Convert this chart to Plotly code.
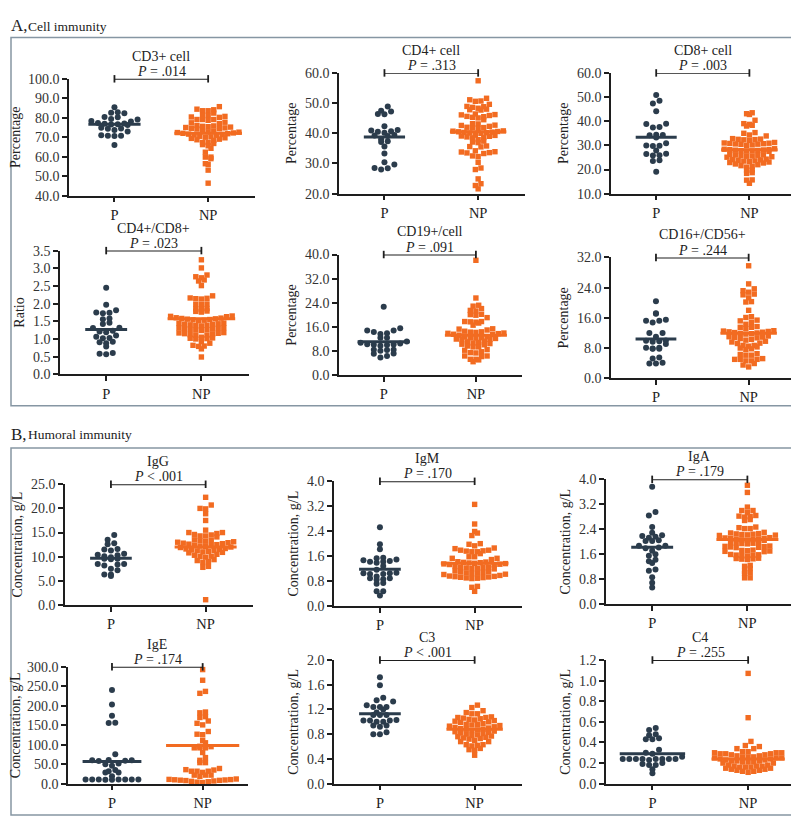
import numpy as np
import plotly.graph_objects as go

# ---------------- DATA ----------------
GROUPS = ["P", "NP"]

TITLES = ["CD3+ cell", "CD4+ cell", "CD8+ cell", "CD4+/CD8+", "CD19+/cell", "CD16+/CD56+",
          "IgG", "IgM", "IgA", "IgE", "C3", "C4"]
PVALUES = ["<i>P</i> = .014", "<i>P</i> = .313", "<i>P</i> = .003", "<i>P</i> = .023",
           "<i>P</i> = .091", "<i>P</i> = .244", "<i>P</i> < .001", "<i>P</i> = .170",
           "<i>P</i> = .179", "<i>P</i> = .174", "<i>P</i> < .001", "<i>P</i> = .255"]
YLABELS = ["Percentage", "Percentage", "Percentage", "Ratio", "Percentage", "Percentage",
           "Concentration, g/L", "Concentration, g/L", "Concentration, g/L",
           "Concentration, g/L", "Concentration, g/L", "Concentration, g/L"]
YRANGES = [(40, 100), (20, 60), (10, 60), (0, 3.5), (0, 40), (0, 32),
           (0, 25), (0, 4), (0, 4), (0, 300), (0, 2), (0, 1.2)]
YDTICKS = [10, 10, 10, 0.5, 8, 8, 5, 0.8, 0.8, 50, 0.4, 0.2]

cd3_p = [85.4, 82.8, 82.6, 82.3, 80.4, 80.3, 79.4, 79.1, 78.3, 78.1, 77.3, 77.1, 76.9, 76.7,
         76.5, 76.3, 74.9, 74.5, 74.3, 73.7, 72.9, 71.0, 70.8, 70.7, 70.6, 66.0]
cd3_np = [85.7, 84.4, 84.1, 83.6, 83.6, 82.4, 81.4, 80.7, 81.1, 80.4, 80.2, 79.1, 79.1, 79.1,
          78.7, 77.7, 77.4, 77.0, 76.0, 75.8, 75.6, 75.4, 75.2, 75.0, 74.8, 74.6, 74.4, 74.2,
          73.2, 73.0, 72.8, 72.6, 72.4, 72.2, 72.0, 71.8, 71.6, 71.4, 71.2, 71.0,
          70.5, 70.2, 70.0, 69.7, 69.4, 69.0, 68.7, 68.4,
          67.3, 66.2, 65.6, 64.3, 66.8, 67.3, 62.3, 59.8, 59.0, 59.8, 56.1, 56.4, 53.1, 46.4]
cd4_p = [48.9, 47.5, 47.2, 46.4, 46.3, 42.3, 41.1, 40.9, 40.7, 40.5, 40.2, 39.4, 39.3, 39.1,
         38.0, 37.4, 37.1, 35.6, 33.3, 30.4, 29.7, 28.5, 28.4, 28.0]
cd4_np = [57.4, 51.6, 51.1, 50.7, 50.6, 49.6, 48.9, 48.8, 48.6, 48.3, 48.0, 47.8, 47.7,
          46.4, 46.2, 46.1, 45.9, 45.6, 45.5, 45.3, 45.1, 44.5,
          43.2, 43.1, 42.7, 42.6, 42.3, 42.0, 41.9, 41.8, 41.6,
          40.8, 40.7, 40.6, 40.5, 40.4, 40.3, 40.2, 40.1, 40.0,
          39.4, 39.3, 39.1, 39.0, 38.8, 38.6, 38.5,
          37.9, 37.4, 37.1, 36.9, 35.8, 35.6, 35.5,
          34.2, 33.9, 33.8, 33.6, 33.5, 33.3, 32.5, 32.3, 30.4, 28.5, 28.0, 24.9, 23.3, 22.7, 21.6]
cd8_p = [50.9, 48.5, 47.3, 44.1, 39.0, 38.9, 37.6, 37.4, 34.4, 34.3, 34.2, 33.3, 30.9, 29.9,
         29.8, 29.7, 27.9, 26.5, 26.4, 25.9, 25.8, 23.8, 23.5, 19.1]
cd8_np = [43.5, 43.1, 42.8, 40.4, 39.0, 38.7, 38.3, 38.0, 35.3, 35.0, 34.3, 33.9,
          32.8, 32.6, 32.5, 32.4, 32.3, 32.1,
          31.2, 31.0, 30.9, 30.8, 30.7, 30.6, 30.5, 30.4, 30.2, 30.0,
          28.6, 28.4, 28.3, 28.2, 28.1, 28.0, 27.9, 27.8, 27.7, 27.6, 27.5,
          26.3, 26.1, 26.0, 25.9, 25.8, 25.6, 25.5, 25.3, 25.1,
          24.3, 24.1, 24.0, 23.8, 23.6, 23.5, 23.3, 23.1, 22.9, 22.7,
          22.3, 22.0, 21.6, 21.3, 21.0,
          19.8, 19.7, 18.7, 18.4, 15.7, 15.6, 14.3]
ratio_p = [2.45, 1.97, 1.81, 1.75, 1.74, 1.73, 1.58, 1.56, 1.46, 1.42, 1.32, 1.31, 1.23, 1.21,
           1.19, 1.10, 1.06, 1.03, 1.02, 0.92, 0.91, 0.88, 0.79, 0.60, 0.58, 0.57]
ratio_np = [3.24, 3.01, 2.81, 2.76, 2.73, 2.67, 2.64, 2.51,
            2.22, 2.16, 2.15, 2.14, 2.13, 1.99, 1.98, 1.97, 1.86, 1.85, 1.83, 1.79, 1.78, 1.76,
            1.65, 1.64, 1.63,
            1.60, 1.59, 1.58, 1.57, 1.56, 1.55, 1.54, 1.53, 1.52,
            1.45, 1.44, 1.43, 1.42, 1.41, 1.40, 1.39, 1.38, 1.37,
            1.32, 1.31, 1.30, 1.29, 1.28, 1.27, 1.26, 1.25, 1.24,
            1.18, 1.17, 1.16, 1.15, 1.14, 1.12, 1.11, 1.10,
            1.05, 1.03, 1.02, 1.01, 1.00,
            0.93, 0.88, 0.82, 0.80, 0.79, 0.72, 0.49]
cd19_p = [22.7, 15.6, 14.8, 14.8, 14.3, 13.9, 13.7, 12.4, 12.4, 11.2, 10.8, 10.5, 10.3, 10.2,
          10.1, 10.0, 9.8, 8.5, 8.5, 8.4, 8.1, 7.2, 7.1, 6.4, 5.9]
cd19_np = [38.1, 25.6, 23.2, 22.9, 22.1, 21.5, 21.3, 20.2, 20.1, 19.9, 19.1,
           17.8, 17.8, 17.7, 17.6, 17.3, 16.6, 15.4, 15.3, 15.0,
           14.6, 14.4, 14.3, 14.2, 14.0, 13.9, 13.8, 13.6, 13.5, 13.3,
           12.8, 12.7, 12.5, 12.4, 12.3, 12.2, 12.0, 11.9, 11.8,
           11.3, 11.1, 10.9, 10.7, 10.5, 10.3, 10.1,
           9.7, 9.4, 9.4, 8.5, 8.3, 7.8, 7.5, 7.4,
           6.4, 6.4, 6.2, 5.3, 5.3, 5.1, 4.5]
cd16_p = [20.4, 17.2, 17.1, 15.5, 15.2, 15.2, 14.8, 12.0, 12.0, 11.0, 10.0, 9.9, 9.8, 9.7,
          9.1, 8.1, 8.1, 7.9, 7.8, 7.8, 5.5, 5.2, 4.1, 3.9, 3.9]
cd16_np = [29.8, 25.0, 23.7, 23.2, 22.8, 22.3, 22.1, 21.3, 20.3, 20.2, 18.0,
           16.3, 16.1, 15.4, 15.2, 14.8, 14.3, 13.7, 13.5, 13.5, 13.2,
           12.6, 12.5, 12.4, 12.3, 12.2, 12.1, 12.0, 11.9, 11.8, 11.7,
           11.2, 11.0, 10.9, 10.8, 10.7, 10.5, 10.3, 10.1,
           9.8, 9.6, 9.3, 9.2,
           8.7, 8.7, 8.5, 8.3, 8.0, 7.8, 7.6,
           6.5, 6.3, 6.1, 6.1, 5.2, 5.0, 5.0, 5.0, 4.6, 4.6, 3.9, 3.5, 3.0]
igg_p = [14.5, 13.5, 12.8, 12.6, 11.6, 11.5, 11.3, 10.6, 10.4, 10.3, 10.1, 9.9, 9.6, 9.6,
         9.5, 8.5, 8.5, 8.4, 8.2, 7.5, 7.2, 6.3, 6.3, 6.0]
igg_np = [22.3, 20.7, 20.0, 19.9, 18.9, 17.5,
          15.5, 15.0, 15.0, 14.8, 14.6, 14.5, 14.3, 14.3, 14.1,
          13.5, 13.4, 13.3, 13.2, 13.1, 13.0,
          12.9, 12.8, 12.7, 12.6, 12.5, 12.4, 12.3, 12.2, 12.1, 12.0, 11.9,
          11.7, 11.6, 11.5, 11.4, 11.3, 11.2, 11.1, 11.0, 10.9, 10.8,
          10.5, 10.3, 10.1, 10.0, 9.9,
          9.4, 9.2, 9.0, 8.8, 8.0, 7.8, 1.1]
igm_p = [2.53, 1.98, 1.82, 1.55, 1.53, 1.49, 1.47, 1.44, 1.42, 1.42, 1.39, 1.28, 1.16, 1.07,
         1.05, 1.05, 1.03, 1.03, 0.95, 0.89, 0.89, 0.86, 0.84, 0.74, 0.71, 0.47, 0.47, 0.34]
igm_np = [3.26, 2.63, 2.39, 2.34, 2.26, 1.98, 2.00, 1.93, 1.86, 1.84, 1.79, 1.79, 1.77, 1.76,
          1.74, 1.74, 1.68,
          1.58, 1.58, 1.53, 1.53, 1.49,
          1.42, 1.41, 1.40, 1.39, 1.38, 1.37, 1.36, 1.35, 1.34, 1.33, 1.32,
          1.27, 1.25, 1.24, 1.23, 1.22, 1.21, 1.20, 1.19,
          1.12, 1.10, 1.09, 1.08, 1.06, 1.05, 1.04, 1.02, 1.01,
          0.98, 0.96, 0.95, 0.94, 0.93, 0.92, 0.91, 0.90, 0.89, 0.88,
          0.63, 0.60, 0.47]
iga_p = [3.76, 2.95, 2.84, 2.47, 2.29, 2.21, 2.18, 2.16, 2.13, 2.05, 2.02, 2.02, 1.87, 1.87,
         1.81, 1.79, 1.71, 1.60, 1.55, 1.42, 1.37, 1.32, 1.11, 1.07, 0.86, 0.68, 0.53]
iga_np = [3.81, 3.58, 3.11, 3.00, 3.00, 2.93, 2.84, 2.82, 2.81, 2.79, 2.71, 2.68, 2.47, 2.45,
          2.42, 2.42,
          2.30, 2.28, 2.26, 2.25, 2.24, 2.23, 2.22, 2.21, 2.20,
          2.13, 2.12, 2.11, 2.10, 2.09, 2.08, 2.07, 2.06, 2.05, 2.04,
          1.98, 1.97, 1.96, 1.95, 1.94, 1.93,
          1.86, 1.85, 1.84, 1.83, 1.82, 1.81,
          1.73, 1.72, 1.71, 1.70, 1.69, 1.68,
          1.59, 1.58, 1.57, 1.56, 1.55, 1.54,
          1.47, 1.46, 1.45, 1.44, 1.43,
          1.24, 1.21, 1.14, 1.05, 1.00, 0.98, 0.84, 0.84]
ige_p = [240.5, 203.6, 174.3, 156.7, 156.0, 75.4, 61.0, 60.0, 60.0, 59.0, 58.0, 52.0, 50.0,
         46.0, 35.0, 32.0, 29.0, 29.0, 19.0, 10.8, 10.7, 10.6, 10.5, 10.5, 10.4, 10.4, 10.3,
         10.2]
ige_np = [293.0, 265.6, 237.0, 232.0, 184.0, 182.0, 172.0, 170.0, 161.0, 155.0, 151.0, 134.0,
          127.0, 125.7, 111.0, 105.0, 96.0, 95.0, 92.0, 92.0, 92.0, 80.0, 67.0, 60.0, 54.0,
          54.0, 39.0, 36.0, 35.0, 32.0, 32.0, 32.0, 29.0, 22.0, 22.0, 22.0, 19.0, 12.0, 11.0,
          10.5, 10.0, 9.5, 9.0, 8.5, 8.0, 7.0, 6.0, 5.0, 4.0, 3.0]
c3_p = [1.72, 1.59, 1.39, 1.35, 1.33, 1.27, 1.24, 1.24, 1.24, 1.20, 1.15, 1.11, 1.11, 1.11,
        1.03, 1.02, 1.02, 1.00, 1.00, 1.02, 0.94, 0.94, 0.92, 0.83, 0.80, 0.80]
c3_np = [1.27, 1.23, 1.18, 1.15, 1.13, 1.13,
         1.08, 1.07, 1.07, 1.06, 1.05, 1.04, 1.03, 1.02, 1.01, 1.00, 0.99,
         0.97, 0.96, 0.96, 0.95, 0.94, 0.93, 0.92, 0.91, 0.90, 0.89,
         0.88, 0.88, 0.87, 0.86, 0.85, 0.84, 0.83, 0.82, 0.81, 0.80,
         0.79, 0.78, 0.77, 0.76, 0.75, 0.74, 0.73, 0.72,
         0.70, 0.68, 0.68, 0.63, 0.63, 0.62, 0.61, 0.57, 0.55, 0.54, 0.46]
c4_p = [0.54, 0.52, 0.48, 0.47, 0.44, 0.43, 0.43, 0.33, 0.30, 0.29, 0.26, 0.24, 0.24, 0.24,
        0.24, 0.23, 0.24, 0.24, 0.24, 0.24, 0.20, 0.19, 0.18, 0.18, 0.14, 0.10]
c4_np = [1.07, 0.64, 0.41, 0.37, 0.36, 0.34, 0.34,
         0.31, 0.31, 0.30, 0.30, 0.30, 0.29, 0.29, 0.29, 0.28, 0.28,
         0.27, 0.27, 0.26, 0.26, 0.26, 0.25, 0.25, 0.25, 0.24, 0.24,
         0.23, 0.23, 0.22, 0.22, 0.22, 0.21, 0.21, 0.21, 0.20, 0.20,
         0.18, 0.18, 0.17, 0.17, 0.17, 0.16, 0.16, 0.16, 0.15, 0.15,
         0.14, 0.14, 0.13, 0.13, 0.12, 0.12, 0.11]

P_SERIES = [cd3_p, cd4_p, cd8_p, ratio_p, cd19_p, cd16_p, igg_p, igm_p, iga_p, ige_p, c3_p, c4_p]
NP_SERIES = [cd3_np, cd4_np, cd8_np, ratio_np, cd19_np, cd16_np, igg_np, igm_np, iga_np, ige_np,
             c3_np, c4_np]
P_MEDIANS = [76.6, 38.8, 33.4, 1.27, 11.1, 10.4, 9.7, 1.18, 1.82, 57.0, 1.13, 0.29]
NP_MEDIANS = [72.0, 40.5, 28.2, 1.57, 13.3, 11.9, 12.0, 1.37, 2.07, 98.0, 0.88, 0.24]

SECTIONS = ["A,", "Cell immunity", "B,", "Humoral immunity"]

# ---------------- LAYOUT / STYLE ----------------
W, H = 799, 820
FONT = "Liberation Serif, Times New Roman, Times, serif"
P_COLOR = "#2b3c4c"
NP_COLOR = "#f26b21"
AX_COLOR = "#1e1e1e"
BOX_COLOR = "#8696a3"
XR = [-0.485, 1.5]
# row-binned scatter: (bin height px, horizontal spacing px) per group
SPACING = [(6.0, 6.6), (5.4, 5.6)]

# panel plot-area pixel boxes: (left, right, top, bottom)
GEOM = [(61, 247, 65, 184), (331, 517, 59, 182), (603, 788, 59, 182),
        (52, 241, 240, 366), (331, 514, 244, 367), (603, 787, 247, 370),
        (57, 245, 478, 601), (326, 514, 475, 602), (598, 787, 473, 600),
        (60, 240, 664, 783), (326, 514, 657, 783), (598, 788, 657, 783)]


def px_x(p):
    return p / W


def px_y(p):
    return 1 - p / H


def row_offsets(vals, ylo, ppu, h, s):
    """GraphPad-like column scatter: points binned in rows of height h px,
    lowest value in the centre of the row, higher values alternately outward."""
    v = np.asarray(vals, float)
    ypx = (v - ylo) * ppu
    bins = np.floor(ypx / h).astype(int)
    xs = np.zeros(len(v))
    for b in np.unique(bins):
        idx = np.where(bins == b)[0]
        idx = idx[np.argsort(v[idx], kind="stable")]
        n = len(idx)
        slots = sorted([(j - (n - 1) / 2.0) * s for j in range(n)],
                       key=lambda c: (abs(c), c))
        for i, c in zip(idx, slots):
            xs[i] = c
    return xs


fig = go.Figure()
shapes = []
annotations = []
layout = {}

for k in range(12):
    sfx = "" if k == 0 else str(k + 1)
    xa, ya = "x" + sfx, "y" + sfx
    x0, x1, yt, yb = GEOM[k]
    ylo, yhi = YRANGES[k]
    ppu_x = (x1 - x0) / (XR[1] - XR[0])
    ppu_y = (yb - yt) / (yhi - ylo)

    groups = [(P_SERIES[k], P_MEDIANS[k], P_COLOR, "circle", 6.0),
              (NP_SERIES[k], NP_MEDIANS[k], NP_COLOR, "square", 5.4)]
    offsets = []
    for gi, (vals, med, col, sym, sz) in enumerate(groups):
        h, s = SPACING[gi]
        offs = row_offsets(vals, ylo, ppu_y, h, s)
        offsets.append(offs)
        fig.add_trace(go.Scatter(
            x=gi + offs / ppu_x, y=vals, mode="markers", xaxis=xa, yaxis=ya,
            marker=dict(symbol=sym, size=sz, color=col, line=dict(width=0)),
            cliponaxis=False, showlegend=False, hoverinfo="y"))
    for gi, (vals, med, col, sym, sz) in enumerate(groups):
        offs = offsets[gi]
        half = max((np.max(np.abs(offs)) + 3) / ppu_x, 0.22)
        fig.add_trace(go.Scatter(
            x=[gi - half, gi + half], y=[med, med], mode="lines", xaxis=xa, yaxis=ya,
            line=dict(color=col, width=3), cliponaxis=False, showlegend=False,
            hoverinfo="skip"))

    layout["xaxis" + sfx] = dict(
        domain=[px_x(x0), px_x(x1)], range=XR, anchor=ya, tickmode="array",
        tickvals=[0, 1], ticktext=GROUPS, showline=True, linecolor=AX_COLOR,
        linewidth=1.6, ticks="outside", ticklen=5, tickwidth=1.6, tickcolor=AX_COLOR,
        showgrid=False, zeroline=False, fixedrange=True,
        tickfont=dict(family=FONT, size=14.5, color="#222"))
    layout["yaxis" + sfx] = dict(
        domain=[px_y(yb), px_y(yt)], range=[ylo, yhi], anchor=xa, tick0=ylo,
        dtick=YDTICKS[k], tickformat=".1f", showline=True, linecolor=AX_COLOR,
        linewidth=1.6, ticks="outside", ticklen=5, tickwidth=1.6, tickcolor=AX_COLOR,
        showgrid=False, zeroline=False, fixedrange=True,
        tickfont=dict(family=FONT, size=14, color="#333"),
        title=dict(text=YLABELS[k], font=dict(family=FONT, size=14, color="#222"),
                   standoff=5))

    # significance bracket
    shapes.append(dict(type="line", xref=xa, yref=ya, x0=0, x1=1, y0=yhi, y1=yhi,
                       line=dict(color=AX_COLOR, width=1.8)))
    for gx in (0, 1):
        shapes.append(dict(type="line", xref=xa, yref="paper", x0=gx, x1=gx,
                           y0=px_y(yt + 3.8), y1=px_y(yt - 3.8),
                           line=dict(color=AX_COLOR, width=1.8)))
    cx = px_x(x0 + (0.5 - XR[0]) * ppu_x)
    annotations.append(dict(text=TITLES[k], x=cx, y=px_y(yt - 23), xref="paper",
                            yref="paper", showarrow=False, xanchor="center",
                            yanchor="middle", font=dict(family=FONT, size=14, color="#222")))
    annotations.append(dict(text=PVALUES[k], x=cx, y=px_y(yt - 7.5), xref="paper",
                            yref="paper", showarrow=False, xanchor="center",
                            yanchor="middle", font=dict(family=FONT, size=14, color="#222")))

# section boxes and headings
for (top, bot) in [(23, 398), (441, 815)]:
    shapes.append(dict(type="rect", xref="paper", yref="paper", x0=px_x(3), x1=px_x(795),
                       y0=px_y(bot), y1=px_y(top), line=dict(color=BOX_COLOR, width=1.5),
                       fillcolor="rgba(0,0,0,0)", layer="below"))
for head, tail, ypix in [(SECTIONS[0], SECTIONS[1], 11), (SECTIONS[2], SECTIONS[3], 427)]:
    annotations.append(dict(text=head, x=px_x(2), y=px_y(ypix), xref="paper", yref="paper",
                            showarrow=False, xanchor="left", yanchor="middle", align="left",
                            borderpad=0, font=dict(family=FONT, size=17, color="#222")))
    annotations.append(dict(text=tail, x=px_x(19), y=px_y(ypix + 0.5), xref="paper",
                            yref="paper", showarrow=False, xanchor="left", yanchor="middle",
                            align="left", borderpad=0,
                            font=dict(family=FONT, size=13.5, color="#222")))

fig.update_layout(
    width=W, height=H, margin=dict(l=0, r=0, t=0, b=0, pad=0),
    paper_bgcolor="white", plot_bgcolor="white", showlegend=False,
    shapes=shapes, annotations=annotations, font=dict(family=FONT, color="#222"),
    **layout)

fig.write_html("out.html")
